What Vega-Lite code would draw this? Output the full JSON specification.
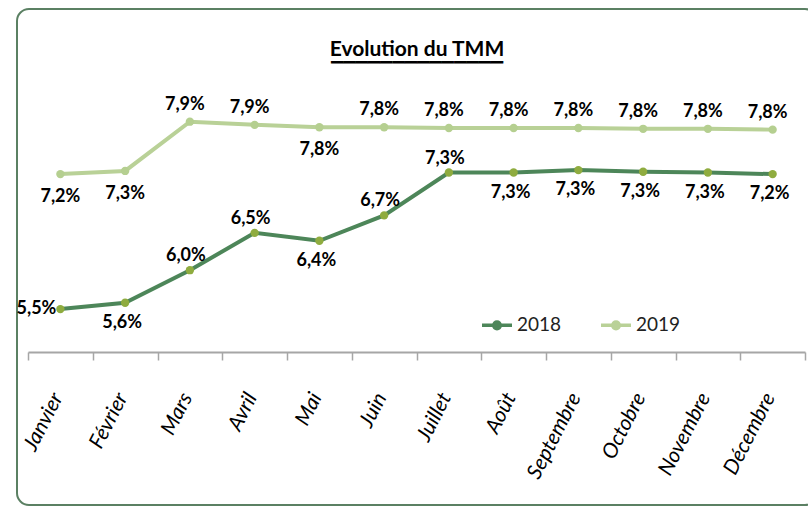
{
  "$schema": "https://vega.github.io/schema/vega-lite/v6.json",
  "width": 800,
  "height": 496,
  "autosize": {"type": "none"},
  "padding": {"left": 17, "top": 9, "right": 0, "bottom": 4},
  "background": "white",
  "title": {
    "text": "Evolution du TMM",
    "subtitle": "▔▔▔▔▔▔▔▔▔▔▔▔▔▔",
    "font": "Lato",
    "fontSize": 21,
    "fontWeight": "bold",
    "color": "#000000",
    "subtitleFont": "DejaVu Sans",
    "subtitleFontSize": 16,
    "subtitleColor": "#000000",
    "subtitlePadding": 3,
    "anchor": "middle",
    "frame": "group",
    "offset": -70
  },
  "data": {
    "values": [
      {"mois": "Janvier", "annee": "2018", "taux": 5.54},
      {"mois": "Février", "annee": "2018", "taux": 5.62},
      {"mois": "Mars", "annee": "2018", "taux": 6.03},
      {"mois": "Avril", "annee": "2018", "taux": 6.50},
      {"mois": "Mai", "annee": "2018", "taux": 6.40},
      {"mois": "Juin", "annee": "2018", "taux": 6.72},
      {"mois": "Juillet", "annee": "2018", "taux": 7.26},
      {"mois": "Août", "annee": "2018", "taux": 7.26},
      {"mois": "Septembre", "annee": "2018", "taux": 7.29},
      {"mois": "Octobre", "annee": "2018", "taux": 7.27},
      {"mois": "Novembre", "annee": "2018", "taux": 7.26},
      {"mois": "Décembre", "annee": "2018", "taux": 7.24},
      {"mois": "Janvier", "annee": "2019", "taux": 7.24},
      {"mois": "Février", "annee": "2019", "taux": 7.28},
      {"mois": "Mars", "annee": "2019", "taux": 7.90},
      {"mois": "Avril", "annee": "2019", "taux": 7.86},
      {"mois": "Mai", "annee": "2019", "taux": 7.83},
      {"mois": "Juin", "annee": "2019", "taux": 7.83},
      {"mois": "Juillet", "annee": "2019", "taux": 7.82},
      {"mois": "Août", "annee": "2019", "taux": 7.82},
      {"mois": "Septembre", "annee": "2019", "taux": 7.82},
      {"mois": "Octobre", "annee": "2019", "taux": 7.81},
      {"mois": "Novembre", "annee": "2019", "taux": 7.81},
      {"mois": "Décembre", "annee": "2019", "taux": 7.80}
    ]
  },
  "transform": [
    {"calculate": "replace(format(datum.taux, '.1f'), '.', ',') + '%'", "as": "etiquette"}
  ],
  "encoding": {
    "x": {
      "field": "mois",
      "type": "nominal",
      "sort": null,
      "scale": {"type": "band", "range": [11, 788], "paddingInner": 0, "paddingOuter": 0},
      "axis": {
        "title": null,
        "offset": -153,
        "grid": false,
        "domainColor": "#a6a6a6",
        "domainWidth": 2,
        "tickColor": "#a6a6a6",
        "tickWidth": 1.5,
        "tickSize": 8,
        "tickBand": "extent",
        "labelAngle": -63,
        "labelAlign": "right",
        "labelBaseline": "middle",
        "labelPadding": 34,
        "labelOffset": -3,
        "labelFont": "Lato",
        "labelFontStyle": "italic",
        "labelFontSize": 21,
        "labelColor": "#000000",
        "labelOverlap": false,
        "labelBound": false
      }
    },
    "y": {
      "field": "taux",
      "type": "quantitative",
      "scale": {"domain": [3.073, 9.319], "nice": false, "zero": false},
      "axis": null
    }
  },
  "layer": [
    {
      "mark": {"type": "line", "strokeWidth": 4},
      "encoding": {
        "stroke": {
          "field": "annee",
          "type": "nominal",
          "scale": {"domain": ["2018", "2019"], "range": ["#4d8659", "#b9d197"]},
          "legend": {
            "orient": "none",
            "legendX": 463,
            "legendY": 299,
            "direction": "horizontal",
            "title": null,
            "padding": 0,
            "symbolType": "M-1,0H1M0.22,0A0.22,0.22,0,1,1,-0.22,0A0.22,0.22,0,1,1,0.22,0Z",
            "symbolSize": 900,
            "symbolStrokeWidth": 3.5,
            "labelFont": "Lato",
            "labelFontSize": 19,
            "labelColor": "#222222",
            "labelOffset": 3,
            "columnPadding": 32,
            "encode": {
              "symbols": {
                "update": {
                  "fill": {"signal": "datum.value === '2018' ? '#8fac3f' : '#b9d197'"}
                }
              }
            }
          }
        }
      }
    },
    {
      "mark": {"type": "point", "filled": true, "size": 70, "opacity": 1},
      "encoding": {
        "fill": {
          "field": "annee",
          "type": "nominal",
          "scale": {"domain": ["2018", "2019"], "range": ["#8fac3f", "#b5cf90"]},
          "legend": null
        }
      }
    },
    {
      "transform": [{"filter": "datum.annee === '2018' && indexof(['Mars', 'Avril', 'Juin', 'Juillet'], datum.mois) >= 0"}],
      "mark": {"type": "text", "font": "Lato", "fontSize": 18, "fontWeight": "bold", "color": "#000000", "baseline": "alphabetic", "dy": -9, "dx": -4},
      "encoding": {"text": {"field": "etiquette"}}
    },
    {
      "transform": [{"filter": "datum.annee === '2018' && indexof(['Janvier', 'Mars', 'Avril', 'Juin', 'Juillet'], datum.mois) < 0"}],
      "mark": {"type": "text", "font": "Lato", "fontSize": 18, "fontWeight": "bold", "color": "#000000", "baseline": "top", "dy": 11, "dx": -3},
      "encoding": {"text": {"field": "etiquette"}}
    },
    {
      "transform": [{"filter": "datum.annee === '2018' && datum.mois === 'Janvier'"}],
      "mark": {"type": "text", "font": "Lato", "fontSize": 18, "fontWeight": "bold", "color": "#000000", "align": "right", "baseline": "middle", "dx": -4},
      "encoding": {"text": {"field": "etiquette"}}
    },
    {
      "transform": [{"filter": "datum.annee === '2019' && indexof(['Janvier', 'Février', 'Mai'], datum.mois) < 0"}],
      "mark": {"type": "text", "font": "Lato", "fontSize": 18, "fontWeight": "bold", "color": "#000000", "baseline": "alphabetic", "dy": -12, "dx": -5},
      "encoding": {"text": {"field": "etiquette"}}
    },
    {
      "transform": [{"filter": "datum.annee === '2019' && indexof(['Janvier', 'Février', 'Mai'], datum.mois) >= 0"}],
      "mark": {"type": "text", "font": "Lato", "fontSize": 18, "fontWeight": "bold", "color": "#000000", "baseline": "top", "dy": 14, "dx": 0},
      "encoding": {"text": {"field": "etiquette"}}
    }
  ],
  "config": {
    "view": {"stroke": "#5b8063", "strokeWidth": 2, "cornerRadius": 12}
  }
}
